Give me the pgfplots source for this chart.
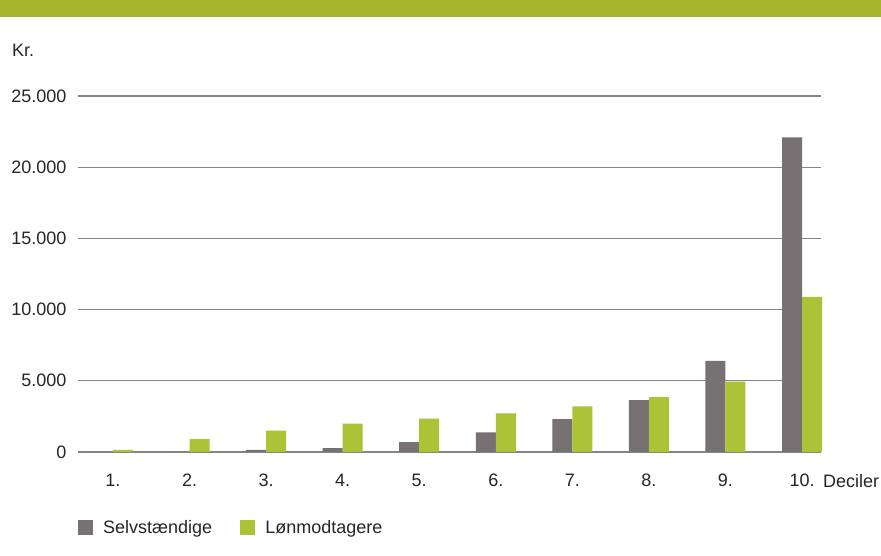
\documentclass[border=0pt]{standalone}
\usepackage{pgfplots}
\pgfplotsset{compat=1.18}
\usepackage{fontspec}
\setmainfont{Liberation Sans}
\definecolor{hdr}{HTML}{A2B52A}
\definecolor{gbar}{HTML}{767172}
\definecolor{lbar}{HTML}{ADC337}
\definecolor{gridc}{HTML}{858585}
\begin{document}
\begin{tikzpicture}[x=1pt,y=1pt,font=\fontsize{18}{21}\selectfont]
\useasboundingbox (0,0) rectangle (881,556);
\fill[white] (0,0) rectangle (881,556);
\fill[hdr] (0,539) rectangle (881,556);
\node[anchor=west,inner sep=0pt,text=black!85] at (12,506) {Kr.};
\begin{axis}[
  at={(78pt,104pt)}, anchor=south west,
  scale only axis, width=743pt, height=356pt,
  xmin=0.543, xmax=10.248, ymin=0, ymax=25000,
  ybar=0pt, bar width=20pt,
  axis x line*=bottom, axis y line*=left,
  separate axis lines,
  y axis line style={draw=none},
  x axis line style={draw=gridc, line width=1.3pt, -},
  ymajorgrids, grid style={draw=gridc, line width=1.2pt},
  major tick length=0pt,
  xtick={1,...,10},
  xticklabels={1.,2.,3.,4.,5.,6.,7.,8.,9.,10.},
  ytick={0,5000,10000,15000,20000,25000},
  scaled y ticks=false,
  /pgf/number format/.cd, 1000 sep={.}, assume math mode=true, /pgfplots/.cd,
  tick label style={font=\fontsize{18}{21}\selectfont, text=black!85},
  yticklabel style={anchor=east, xshift=-8pt},
  xticklabel style={anchor=north, text height=13pt, text depth=0pt, yshift=-18pt},
  legend image code/.code={\fill[#1] (0pt,-7.5pt) rectangle (15pt,7.5pt);},
  legend style={at={(0,-0.212)}, anchor=west, draw=none, fill=none,
    legend columns=2, inner sep=0pt,
    font=\fontsize{18}{21}\selectfont, text=black!85,
    /tikz/every odd column/.append style={column sep=8pt},
    /tikz/every even column/.append style={column sep=26pt}},
  legend cell align=left,
  clip=false,
]
\addplot[fill=gbar, draw=none] coordinates {(1,0) (2,0) (3,150) (4,280) (5,700) (6,1380) (7,2300) (8,3650) (9,6400) (10,22100)};
\addplot[fill=lbar, draw=none] coordinates {(1,150) (2,900) (3,1500) (4,2000) (5,2350) (6,2720) (7,3200) (8,3850) (9,4950) (10,10900)};
\legend{Selvstændige, Lønmodtagere}
\end{axis}
\node[anchor=base west,inner sep=0pt,text=black!85] at (823,68) {Deciler};
\end{tikzpicture}
\end{document}
